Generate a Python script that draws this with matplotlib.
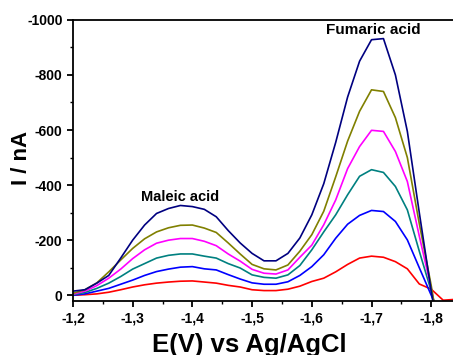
import numpy as np
import matplotlib
matplotlib.use('Agg')
import matplotlib.pyplot as plt
from matplotlib.ticker import FixedLocator, FixedFormatter, MultipleLocator

plt.rcParams['font.family'] = ['Liberation Sans', 'DejaVu Sans']
plt.rcParams['font.weight'] = 'bold'

# potential grid (V vs Ag/AgCl), 0.02 V steps
potential = [-1.20, -1.22, -1.24, -1.26, -1.28, -1.30, -1.32, -1.34, -1.36, -1.38,
             -1.40, -1.42, -1.44, -1.46, -1.48, -1.50, -1.52, -1.54, -1.56, -1.58,
             -1.60, -1.62, -1.64, -1.66, -1.68, -1.70, -1.72, -1.74, -1.76, -1.78,
             -1.80, -1.82, -1.84]

# currents (nA)
i_red = [0, -2, -5, -11, -20, -30, -38, -44, -48, -51,
         -52, -48, -44, -36, -30, -20, -17, -17, -22, -33,
         -50, -62, -85, -112, -135, -142, -138, -122, -96, -41,
         -22, 18, 15]
i_blue = [0, -5, -15, -25, -40, -55, -72, -86, -95, -102,
          -104, -96, -92, -75, -59, -45, -40, -40, -49, -72,
          -104, -147, -207, -258, -290, -308, -304, -268, -201, -100,
          0, 100, 110]
i_teal = [-2, -10, -25, -44, -68, -95, -115, -135, -145, -150,
          -150, -142, -135, -115, -99, -74, -65, -62, -74, -108,
          -165, -230, -292, -365, -432, -456, -446, -395, -310, -160,
          -15, 150, 160]
i_magenta = [-4, -15, -35, -62, -95, -133, -165, -189, -200, -206,
             -206, -196, -180, -150, -124, -94, -80, -77, -92, -138,
             -182, -256, -346, -460, -540, -599, -595, -522, -413, -215,
             -25, 200, 210]
i_olive = [-7, -20, -45, -85, -128, -170, -205, -230, -245, -254,
           -255, -244, -228, -190, -150, -112, -96, -92, -110, -160,
           -220, -305, -430, -560, -668, -746, -740, -645, -500, -260,
           -35, 230, 240]
i_navy = [-15, -20, -44, -72, -135, -200, -255, -297, -315, -326,
          -322, -312, -285, -235, -190, -152, -125, -125, -152, -208,
          -292, -405, -555, -720, -850, -928, -932, -800, -595, -300,
          -15, 250, 260]

curves = [i_red, i_blue, i_teal, i_magenta, i_olive, i_navy]
colors = ['#FF0000', '#0000FF', '#008080', '#FF00FF', '#808000', '#000080']

x_ticks = [-1.2, -1.3, -1.4, -1.5, -1.6, -1.7, -1.8]
x_ticklabels = ['-1,2', '-1,3', '-1,4', '-1,5', '-1,6', '-1,7', '-1,8']
y_ticks = [0, -200, -400, -600, -800, -1000]
y_ticklabels = ['0', '-200', '-400', '-600', '-800', '-1000']

fig = plt.figure(figsize=(4.53, 3.55), dpi=100)
ax = fig.add_axes([0.161, 0.152, 0.845, 0.792])

for cur, col in zip(curves, colors):
    ax.plot(potential, cur, color=col, lw=1.2)

ax.set_xlim(-1.2, -1.841)
ax.set_ylim(21, -1000)

ax.xaxis.set_major_locator(FixedLocator(x_ticks))
ax.xaxis.set_major_formatter(FixedFormatter(x_ticklabels))
ax.xaxis.set_minor_locator(MultipleLocator(0.05))
ax.yaxis.set_major_locator(FixedLocator(y_ticks))
ax.yaxis.set_major_formatter(FixedFormatter(y_ticklabels))
ax.yaxis.set_minor_locator(MultipleLocator(100))

ax.tick_params(which='major', direction='out', length=4, width=1.3, labelsize=10)
ax.tick_params(which='minor', direction='out', length=2.5, width=1.0)
for lab in ax.get_xticklabels() + ax.get_yticklabels():
    lab.set_fontweight('bold')

for side in ['left', 'bottom', 'top']:
    ax.spines[side].set_linewidth(1.3)
ax.spines['right'].set_visible(False)

# x label sits low, close to the bottom edge like the original
ax.set_xlabel('E(V) vs Ag/AgCl', fontsize=18.5, fontweight='bold')
ax.xaxis.set_label_coords(0.462, -0.115)
ax.xaxis.label.set_va('top')
ax.set_ylabel('I / nA', fontsize=16, fontweight='bold')
ax.yaxis.set_label_coords(-0.108, 0.51)

ax.text(-1.380, -357, 'Maleic acid', fontsize=10.5, fontweight='bold',
        ha='center', va='center')
ax.text(-1.703, -965, 'Fumaric acid', fontsize=11, fontweight='bold',
        ha='center', va='center')

fig.savefig('out.png', dpi=100)
